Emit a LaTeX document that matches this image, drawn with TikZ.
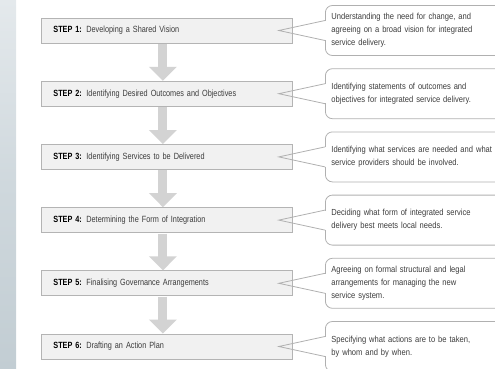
\documentclass[tikz,border=0pt]{standalone}
\usepackage{fontspec}
\setmainfont{Liberation Sans}[FakeStretch=0.86]
\newfontfamily\stepfont{Liberation Sans}[FakeStretch=0.81]
\usetikzlibrary{arrows.meta,calc}
\definecolor{boxfill}{HTML}{F1F1F1}
\definecolor{boxline}{HTML}{B4B4B4}
\definecolor{arrowgrey}{HTML}{D3D3D3}
\definecolor{noteline}{HTML}{B0B0B0}
\definecolor{textgrey}{HTML}{3C3C3C}
\definecolor{stripTop}{HTML}{E4E9EC}
\definecolor{stripMid}{HTML}{CFD8DD}
\definecolor{stripBot}{HTML}{C2CDD3}
\tikzset{
  stepbox/.style={draw=boxline, fill=boxfill, line width=0.8pt, anchor=west,
    minimum width=251pt, minimum height=25pt, text width=227pt, inner xsep=12pt,
    align=left, font=\stepfont\fontsize{9}{10}\selectfont, text=textgrey},
  notebox/.style={draw=noteline, line width=0.8pt, rounded corners=7pt, anchor=west,
    minimum height=50pt, text width=200pt, inner xsep=6pt, align=left,
    font=\fontsize{8.8}{13.2}\selectfont, text=textgrey},
  flowarrow/.style={draw=arrowgrey, line width=9pt,
    -{Triangle[width=27pt,length=14pt]}, shorten <=0.5pt},
  pointer/.style={draw=noteline, line width=0.8pt, line join=miter},
}
\newcommand{\steplabel}[2]{\textbf{\color{black}STEP #1:} #2}
\begin{document}
\begin{tikzpicture}[x=1pt,y=-1pt]
  \useasboundingbox (0,0) rectangle (495,369);
  \clip (0,0) rectangle (495,369);
  % pale strip along the left edge
  \shade[top color=stripTop, bottom color=stripBot, middle color=stripMid]
    (0,0) rectangle (16,369);

  % steps
  \foreach \i/\lbl in {1/Developing a Shared Vision,
                       2/Identifying Desired Outcomes and Objectives,
                       3/Identifying Services to be Delivered,
                       4/Determining the Form of Integration,
                       5/Finalising Governance Arrangements,
                       6/Drafting an Action Plan}{
    \node[stepbox] (s\i) at (41,{30.5+63.2*(\i-1)}) {\steplabel{\i}{\lbl}};
  }

  % arrows between the steps
  \foreach \a/\b in {1/2,2/3,3/4,4/5,5/6}{
    \draw[flowarrow] ($(s\a.south)+(-4,0)$) -- ($(s\b.north)+(-4,0)$);
  }

  % explanatory notes
  \node[notebox] (c1) at (325,30.5)
    {Understanding the need for change, and\\ agreeing on a broad vision for integrated\\ service delivery.};
  \node[notebox] (c2) at (325,93.7)
    {Identifying statements of outcomes and\\ objectives for integrated service delivery.};
  \node[notebox] (c3) at (325,156.9)
    {Identifying what services are needed and what\\ service providers should be involved.};
  \node[notebox] (c4) at (325,220.1)
    {Deciding what form of integrated service\\ delivery best meets local needs.};
  \node[notebox] (c5) at (325,283.3)
    {Agreeing on formal structural and legal\\ arrangements for managing the new\\ service system.};
  \node[notebox] (c6) at (325,346.5)
    {Specifying what actions are to be taken,\\ by whom and by when.};

  % pointers from each note to its step
  \foreach \i in {1,...,6}{
    \fill[white] ($(c\i.west)+(-1.5,-9.6)$) rectangle ($(c\i.west)+(1.5,9.6)$);
    \coordinate (t\i) at ($(s\i.east)+(-14,0)$);
    \draw[pointer] ($(c\i.west)+(0,-10)$) -- (t\i) -- ($(c\i.west)+(0,10)$);
  }
\end{tikzpicture}
\end{document}
